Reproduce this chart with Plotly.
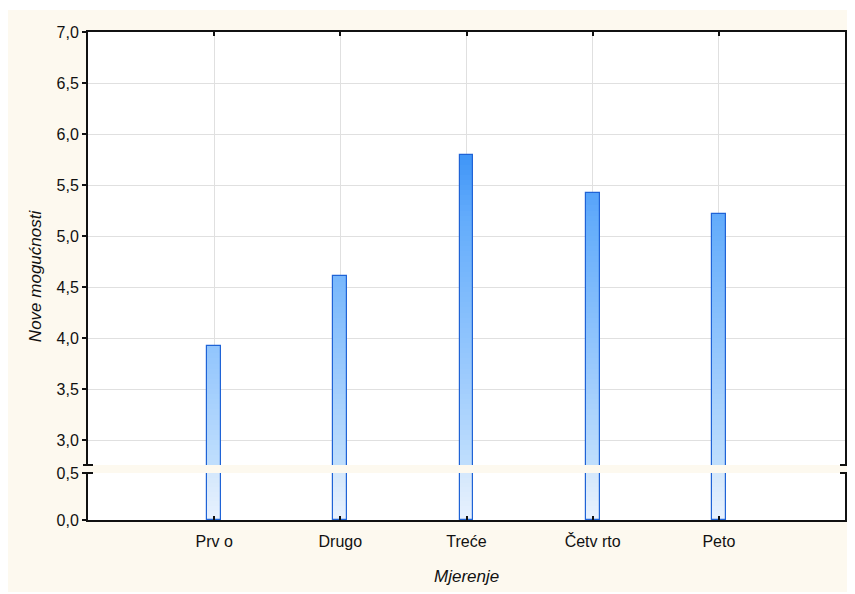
import numpy as np
import plotly.graph_objects as go

# ---- data ----
categories = ["Prv o", "Drugo", "Treće", "Četv rto", "Peto"]
values = [3.92, 4.61, 5.79, 5.42, 5.22]
upper_ticks = [3.0, 3.5, 4.0, 4.5, 5.0, 5.5, 6.0, 6.5, 7.0]
lower_ticks = [0.0, 0.5]
y_title = "Nove mogućnosti"
x_title = "Mjerenje"

# ---- styling ----
BEIGE = "#fdf9ef"
OUTLINE = "#1f63d6"
GRID = "#e0e0e0"
FONT = "Liberation Sans, Arial, sans-serif"
TICK_SIZE = 16
TITLE_SIZE = 17

# gradient anchors (value -> rgb)
anchors = [
    (0.0, (232, 242, 254)),
    (0.5, (212, 231, 252)),
    (2.75, (192, 223, 253)),
    (3.0, (182, 217, 253)),
    (3.9, (146, 197, 253)),
    (5.2, (98, 171, 251)),
    (5.8, (62, 149, 247)),
    (7.0, (30, 120, 240)),
]
av = [a[0] for a in anchors]


def grad(v):
    rgb = [int(round(np.interp(v, av, [a[1][i] for a in anchors]))) for i in range(3)]
    return "rgb(%d,%d,%d)" % tuple(rgb)


# page geometry (the html body has an 8px margin)
OFF = 8
FIG_W, FIG_H = 855 - OFF, 594 - OFF
L, R, T, B = 88, 847, 32, 520          # plot area in page pixels
W, H = R - L, B - T
lower_top_px, upper_bot_px = 473, 465
lower_dom = [0, (B - lower_top_px) / H]
upper_dom = [(B - upper_bot_px) / H, 1]
px_per_unit_upper = (440 - T) / 4.0


def px_x(p):
    return (p - L) / W


def px_y(p):
    return (B - p) / H


fig = go.Figure()
bar_w = 0.11
step = 0.05


def add_bands(lo_start, hi_end, xa, ya):
    lo = lo_start
    while lo < hi_end - 1e-9:
        h = [max(v - lo, 0) for v in values]
        fig.add_trace(go.Bar(
            x=categories, y=h, base=lo, width=bar_w,
            marker=dict(color=grad(lo + step / 2), line=dict(width=0)),
            xaxis=xa, yaxis=ya, hoverinfo="skip", showlegend=False))
        lo += step
    fig.add_trace(go.Bar(
        x=categories, y=values, width=bar_w,
        marker=dict(color="rgba(0,0,0,0)", line=dict(color=OUTLINE, width=1.2)),
        xaxis=xa, yaxis=ya, hoverinfo="skip", showlegend=False))


add_bands(0.0, 0.5, "x", "y")
add_bands(2.7, 7.0, "x2", "y2")

axis_common = dict(
    showline=True, linecolor="#111111", linewidth=2,
    tickcolor="#111111", tickwidth=1.5,
    gridcolor=GRID, gridwidth=1,
    tickfont=dict(family=FONT, size=TICK_SIZE, color="#111111"),
    zeroline=False,
)

fig.update_layout(
    width=FIG_W, height=FIG_H,
    margin=dict(l=L - OFF, r=855 - R, t=T - OFF, b=594 - B),
    paper_bgcolor=BEIGE, plot_bgcolor="white",
    barmode="overlay", bargap=0,
    separators=",.",
    showlegend=False,
    xaxis=dict(domain=[0, 1], anchor="y", type="category", range=[-1, 5],
               ticks="inside", ticklen=4, showgrid=True,
               ticklabelstandoff=6, **axis_common),
    xaxis2=dict(domain=[0, 1], anchor="y2", matches="x", type="category",
                side="top", ticks="inside", ticklen=4, showgrid=True,
                showticklabels=False, **axis_common),
    yaxis=dict(domain=lower_dom, anchor="x", range=[0, 0.502],
               tickvals=lower_ticks, tickformat=".1f", ticks="outside",
               ticklen=4, mirror=True, showgrid=False, **axis_common),
    yaxis2=dict(domain=upper_dom, anchor="x2",
                range=[7.0 - (upper_bot_px - T) / px_per_unit_upper, 7.0],
                tickvals=upper_ticks, tickformat=".1f", ticks="outside",
                ticklen=4, mirror=True, showgrid=True, **axis_common),
)

shapes = []
# white page border outside the beige panel
shapes += [
    dict(type="rect", xref="paper", yref="paper", x0=px_x(850), x1=px_x(856), y0=px_y(595), y1=px_y(0),
         fillcolor="white", line=dict(width=0), layer="above"),
    dict(type="rect", xref="paper", yref="paper", x0=px_x(0), x1=px_x(856), y0=px_y(10), y1=px_y(0),
         fillcolor="white", line=dict(width=0), layer="above"),
    dict(type="rect", xref="paper", yref="paper", x0=px_x(0), x1=px_x(856), y0=px_y(595), y1=px_y(592),
         fillcolor="white", line=dict(width=0), layer="above"),
]
# axis break marks
for py in (upper_bot_px, lower_top_px):
    shapes.append(dict(type="line", xref="paper", yref="paper", x0=px_x(83), x1=px_x(93),
                       y0=px_y(py), y1=px_y(py), line=dict(color="#111111", width=2), layer="above"))
    shapes.append(dict(type="line", xref="paper", yref="paper", x0=px_x(842), x1=px_x(851),
                       y0=px_y(py), y1=px_y(py), line=dict(color="#111111", width=2), layer="above"))
fig.update_layout(shapes=shapes)

fig.add_annotation(text="<i>" + y_title + "</i>", xref="paper", yref="paper",
                   x=px_x(35), y=px_y(276), textangle=-90, showarrow=False,
                   font=dict(family=FONT, size=TITLE_SIZE, color="#111111"),
                   xanchor="center", yanchor="middle")
fig.add_annotation(text="<i>" + x_title + "</i>", xref="paper", yref="paper",
                   x=px_x(467.5), y=px_y(576), showarrow=False,
                   font=dict(family=FONT, size=TITLE_SIZE, color="#111111"),
                   xanchor="center", yanchor="middle")

fig.write_html("out.html")
